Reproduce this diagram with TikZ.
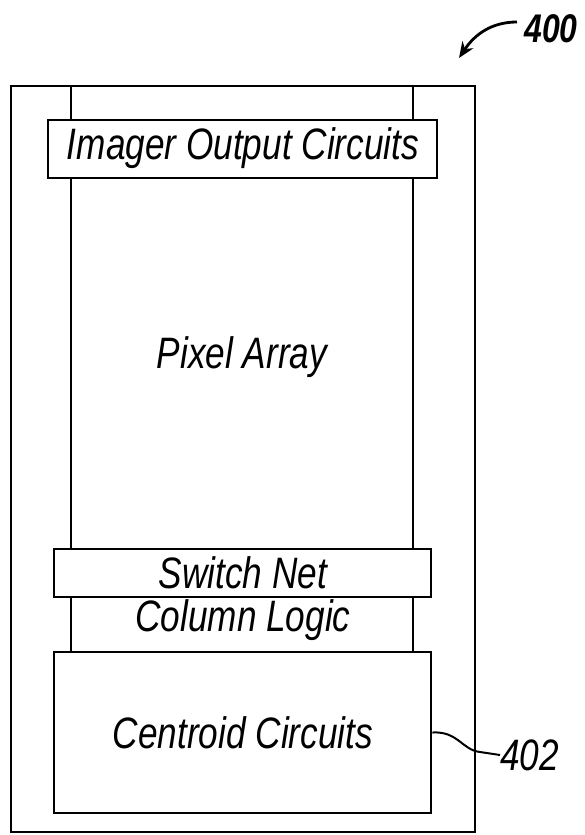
\documentclass[tikz,border=0pt]{standalone}
\usepackage{fontspec}
\newfontfamily\figfont{Liberation Sans}[FakeStretch=0.8]
\usetikzlibrary{arrows.meta}
\begin{document}
\begin{tikzpicture}[x=1pt,y=-1pt,
    box/.style={shape=rectangle,draw=black,line width=2.8pt,fill=white,inner sep=0pt},
    txt/.style={font=\figfont\itshape\fontsize{44}{46}\selectfont,inner sep=0pt}]
        \useasboundingbox (0,0) rectangle (584,835);
        \node[box,minimum width=464pt,minimum height=746pt] (chip) at (243,459) {};
        \node[box,minimum width=342pt,minimum height=566pt] (array) at (242,369) {};
        \node[box,minimum width=389pt,minimum height=58pt] (imager) at (242.5,149) {};
        \node[txt] (imagertxt) at (243,148) {Imager Output Circuits};
        \node[txt] (pixel) at (242,357) {Pixel Array};
        \node[box,minimum width=377pt,minimum height=48pt] (switch) at (242.5,573) {};
        \node[txt] (switchtxt) at (243,573) {Switch Net};
        \node[txt] (column) at (243,620) {Column Logic};
        \node[box,minimum width=377pt,minimum height=161pt] (centroid) at (242.5,732.5) {};
        \node[txt] (centroidtxt) at (243,733) {Centroid Circuits};
        \node[txt,anchor=west] (n402) at (500,755) {402};
        \node[font=\figfont\bfseries\itshape\fontsize{40}{42}\selectfont,inner sep=0pt] (n400) at (551,29) {400};
        \draw[line width=2pt] (centroid.east) .. controls (458,731) and (462,750) .. (480,752) -- (n402.west);
        \draw[line width=2.8pt,-{Stealth[length=16pt,width=13pt]}] (517,22) .. controls (492,22) and (475,34) .. (459,58);
    \end{tikzpicture}
\end{document}
